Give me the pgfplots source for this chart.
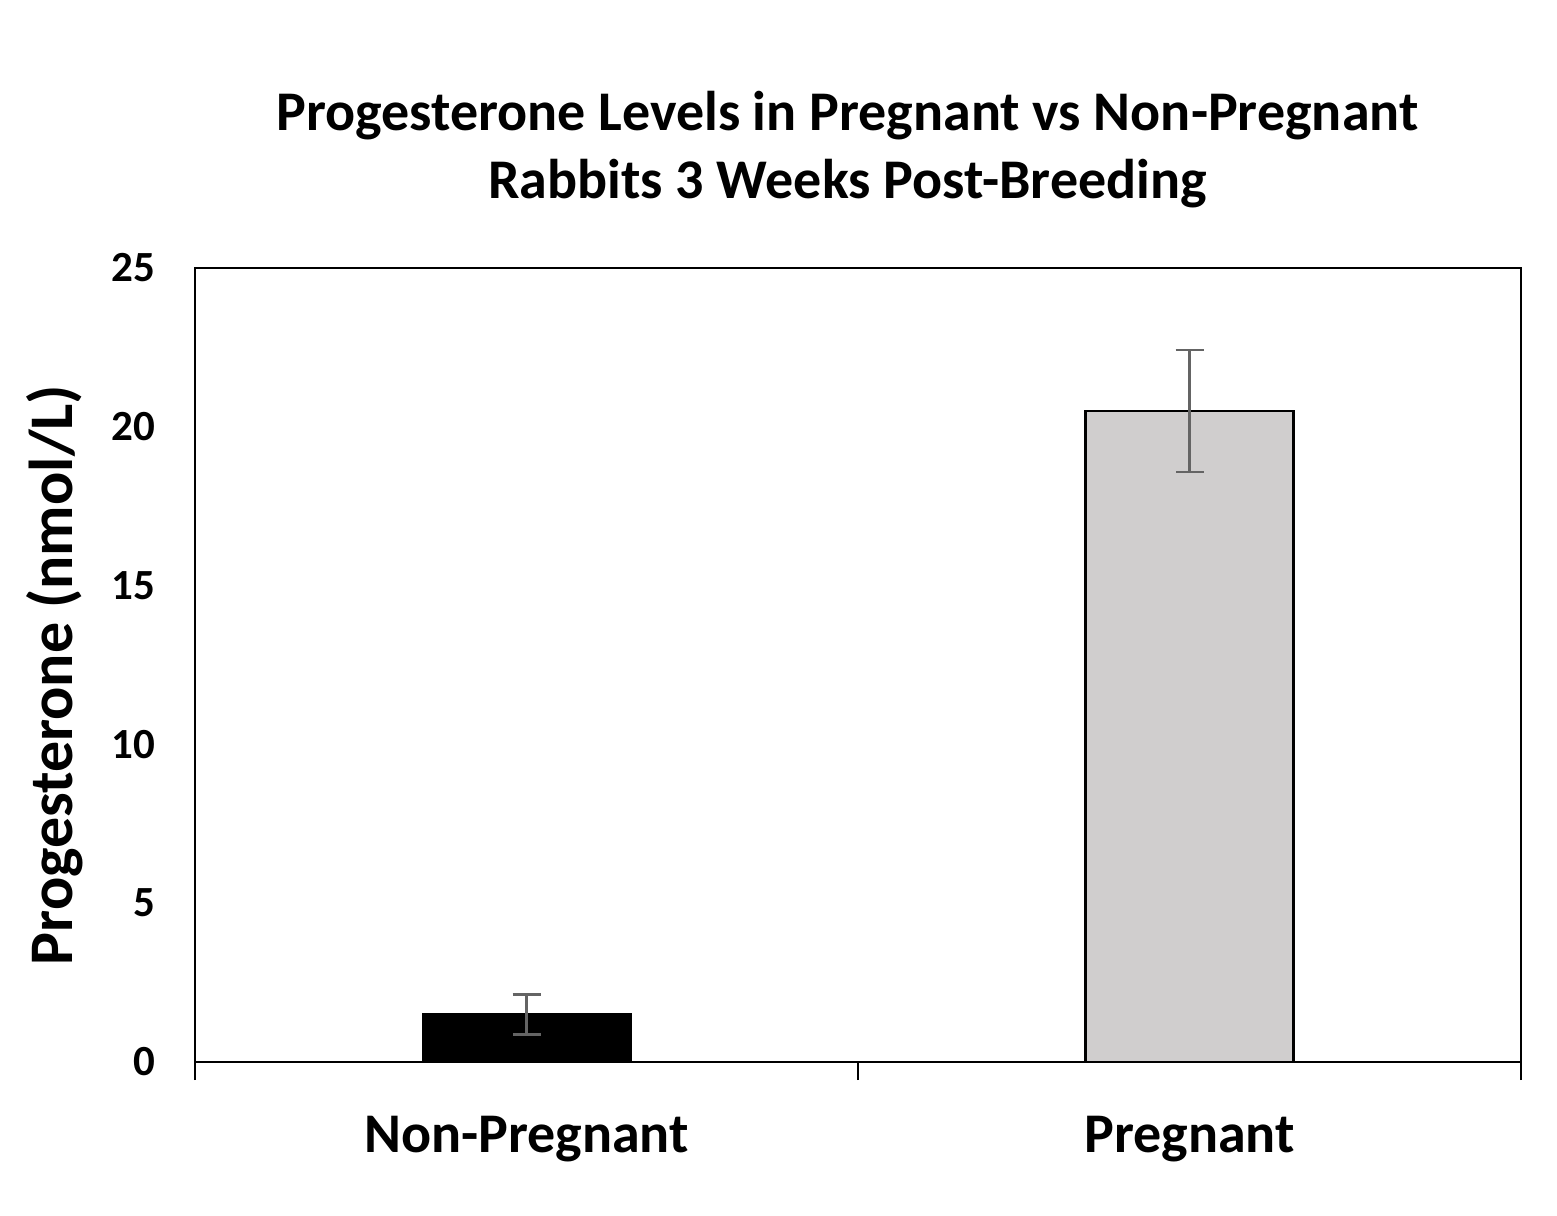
\documentclass[border=0pt]{standalone}
\usepackage{fontspec}
\setmainfont{Carlito}
\usepackage{pgfplots}
\pgfplotsset{compat=1.18}
\definecolor{bargray}{RGB}{208,206,206}
\definecolor{errgray}{RGB}{100,100,100}

\begin{document}
\begin{tikzpicture}[x=1pt,y=1pt]
% page frame: 1557x1215 px at 0.5pt per px, axis box at (195,268)-(1521,1062)
\useasboundingbox (-97.5,-76.5) rectangle (681,531);
\begin{axis}[
    scale only axis,
    width=663pt,
    height=397pt,
    xmin=-0.5, xmax=1.5,
    ymin=0, ymax=25,
    ytick={0,5,10,15,20,25},
    xtick={0,1},
    xticklabels={Non-Pregnant, Pregnant},
    major tick length=0pt,
    xtick pos=bottom,
    extra x ticks={-0.5,0.5,1.5},
    extra x tick labels={},
    extra x tick style={major tick length=9pt, tick align=outside,
        xtick pos=bottom,
        major tick style={black, line width=1.2pt}},
    axis line style={black, line width=1.2pt},
    /pgf/number format/assume math mode=true,
    yticklabel style={font=\fontsize{21.5}{26}\selectfont\bfseries, anchor=east, xshift=-16.5pt},
    xticklabel style={font=\fontsize{28}{33}\selectfont\bfseries, anchor=base, yshift=-45pt},
    ybar,
    bar width=104pt,
    bar shift=0pt,
    clip=false,
]
\addplot[fill=black, draw=black, line width=1pt,
    error bars/.cd, y dir=both, y explicit,
    error bar style={errgray, line width=1.2pt},
    error mark options={errgray, line width=1.2pt, mark size=7pt, rotate=90}]
    coordinates {(0,1.5) +- (0,0.63)};
\addplot[fill=bargray, draw=black, line width=1.2pt,
    error bars/.cd, y dir=both, y explicit,
    error bar style={errgray, line width=1.2pt},
    error mark options={errgray, line width=1.2pt, mark size=7pt, rotate=90}]
    coordinates {(1,20.5) +- (0,1.92)};
\end{axis}
\node[anchor=base, font=\fontsize{28}{33}\selectfont\bfseries] at (326.25,465.5)
    {Progesterone Levels in Pregnant vs Non-Pregnant};
\node[anchor=base, font=\fontsize{28}{33}\selectfont\bfseries] at (326.25,431.5)
    {Rabbits 3 Weeks Post-Breeding};
\node[anchor=base, rotate=90, font=\fontsize{31}{37}\selectfont\bfseries] at (-61,193.5)
    {Progesterone (nmol/L)};
\end{tikzpicture}
\end{document}
